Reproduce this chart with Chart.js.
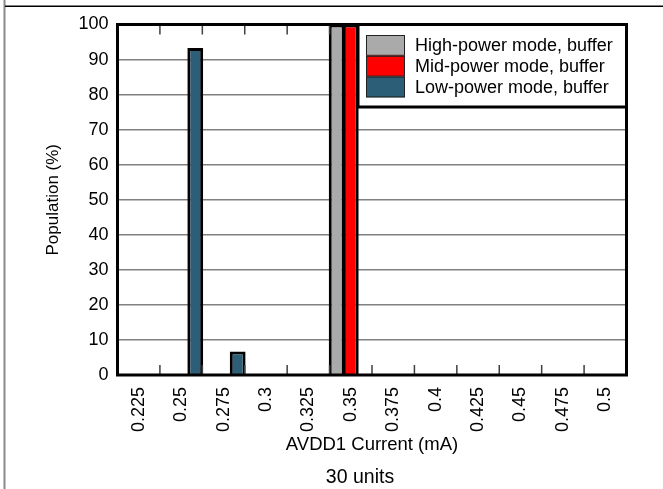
<!DOCTYPE html>
<html><head><meta charset="utf-8">
<script src="https://cdn.jsdelivr.net/npm/chart.js@4"></script>
<style>html,body{margin:0;padding:0;background:#fff;overflow:hidden}canvas{display:block}</style>
</head><body>
<canvas id="c" width="663" height="489"></canvas>
<script>
const categories = ['0.225','0.25','0.275','0.3','0.325','0.35','0.375','0.4','0.425','0.45','0.475','0.5'];
const highPower = [0,0,0,0,0,100,0,0,0,0,0,0];
const midPower  = [0,0,0,0,0,100,0,0,0,0,0,0];
const lowPower  = [0,93.33,6.67,0,0,0,0,0,0,0,0,0];
const seriesLabels = ['High-power mode, buffer','Mid-power mode, buffer','Low-power mode, buffer'];
const seriesColors = ['#AAAAAA','#FF0000','#2D5E77'];
const yTicks = [0,10,20,30,40,50,60,70,80,90,100];
const xTitle = 'AVDD1 Current (mA)';
const yTitle = 'Population (%)';
const chartTitle = '30 units';

const FONT = "'Liberation Sans', Arial, sans-serif";
Chart.defaults.font.family = FONT;
Chart.defaults.color = '#000';

const decor = {
  id: 'decor',
  beforeDraw(chart) {
    const ctx = chart.ctx;
    ctx.save();
    ctx.fillStyle = '#fff';
    ctx.fillRect(0, 0, chart.width, chart.height);
    ctx.strokeStyle = '#8a8a8a'; ctx.lineWidth = 2;
    ctx.beginPath(); ctx.moveTo(4.5, 0); ctx.lineTo(4.5, chart.height); ctx.stroke();
    ctx.strokeStyle = '#000'; ctx.lineWidth = 1.5;
    ctx.beginPath(); ctx.moveTo(5, 6.25); ctx.lineTo(chart.width, 6.25); ctx.stroke();
    ctx.restore();
  },
  afterDatasetsDraw(chart) {
    const ctx = chart.ctx, a = chart.chartArea, x = chart.scales.x;
    ctx.save();
    ctx.strokeStyle = '#404040'; ctx.lineWidth = 1.5;
    for (let i = 0; i < categories.length - 1; i++) {
      const bx = (x.getPixelForTick(i) + x.getPixelForTick(i + 1)) / 2;
      ctx.beginPath();
      ctx.moveTo(bx, a.top); ctx.lineTo(bx, a.top + 10);
      ctx.moveTo(bx, a.bottom); ctx.lineTo(bx, a.bottom - 10);
      ctx.stroke();
    }
    ctx.strokeStyle = '#000'; ctx.lineWidth = 3;
    ctx.strokeRect(a.left, a.top, a.right - a.left, a.bottom - a.top);
    ctx.restore();
  },
  afterDraw(chart) {
    const ctx = chart.ctx, a = chart.chartArea;
    ctx.save();
    const lx = 358, ly = a.top, lw = a.right - lx, lh = 107 - a.top;
    ctx.fillStyle = '#fff';
    ctx.fillRect(lx, ly, lw, lh);
    ctx.strokeStyle = '#000'; ctx.lineWidth = 3;
    ctx.strokeRect(lx, ly, lw, lh);
    const rowH = 20.8;
    chart.data.datasets.forEach((ds, i) => {
      const sy = ly + 10.5 + i * rowH;
      ctx.fillStyle = ds.backgroundColor;
      ctx.fillRect(lx + 8, sy, 39, rowH);
      ctx.strokeStyle = '#222'; ctx.lineWidth = 1;
      ctx.strokeRect(lx + 8.5, sy + 0.5, 38, rowH - 1);
      ctx.fillStyle = '#000';
      ctx.font = '18px ' + FONT;
      ctx.textBaseline = 'middle'; ctx.textAlign = 'left';
      ctx.fillText(ds.label, lx + 57, sy + rowH / 2 + 1);
    });
    ctx.fillStyle = '#000';
    ctx.font = '19.5px ' + FONT;
    ctx.textAlign = 'center'; ctx.textBaseline = 'middle';
    ctx.fillText(chartTitle, 360, 478);
    ctx.restore();
  }
};

new Chart(document.getElementById('c'), {
  type: 'bar',
  data: {
    labels: categories,
    datasets: [
      { label: seriesLabels[0], data: highPower, backgroundColor: seriesColors[0] },
      { label: seriesLabels[1], data: midPower, backgroundColor: seriesColors[1] },
      { label: seriesLabels[2], data: lowPower, backgroundColor: seriesColors[2] }
    ]
  },
  options: {
    responsive: false, animation: false, devicePixelRatio: 1,
    layout: { padding: { left: 0, top: 24.5, right: 36.5, bottom: 33 } },
    datasets: { bar: { borderColor: '#000', borderWidth: 3, categoryPercentage: 1, barPercentage: 1.12 } },
    plugins: { legend: { display: false }, tooltip: { enabled: false }, title: { display: false } },
    scales: {
      x: {
        offset: true,
        grid: { display: false, drawTicks: false },
        border: { display: false },
        ticks: { minRotation: 90, maxRotation: 90, autoSkip: false, padding: 12, color: '#000', font: { size: 18 } },
        title: { display: true, text: xTitle, color: '#000', font: { size: 18.5 }, padding: { top: 0, bottom: 0 } },
        afterFit: s => { s.height = 81; }
      },
      y: {
        min: 0, max: 100,
        afterBuildTicks: s => { s.ticks = yTicks.map(v => ({ value: v })); },
        ticks: { padding: 9, color: '#000', font: { size: 18 } },
        grid: { color: '#808080', lineWidth: 1.5, drawTicks: false },
        border: { display: false },
        title: { display: true, text: yTitle, color: '#000', font: { size: 17 }, padding: { top: 43, bottom: 0 } },
        afterFit: s => { s.width = 117.5; }
      }
    }
  },
  plugins: [decor]
});
</script>
</body></html>
